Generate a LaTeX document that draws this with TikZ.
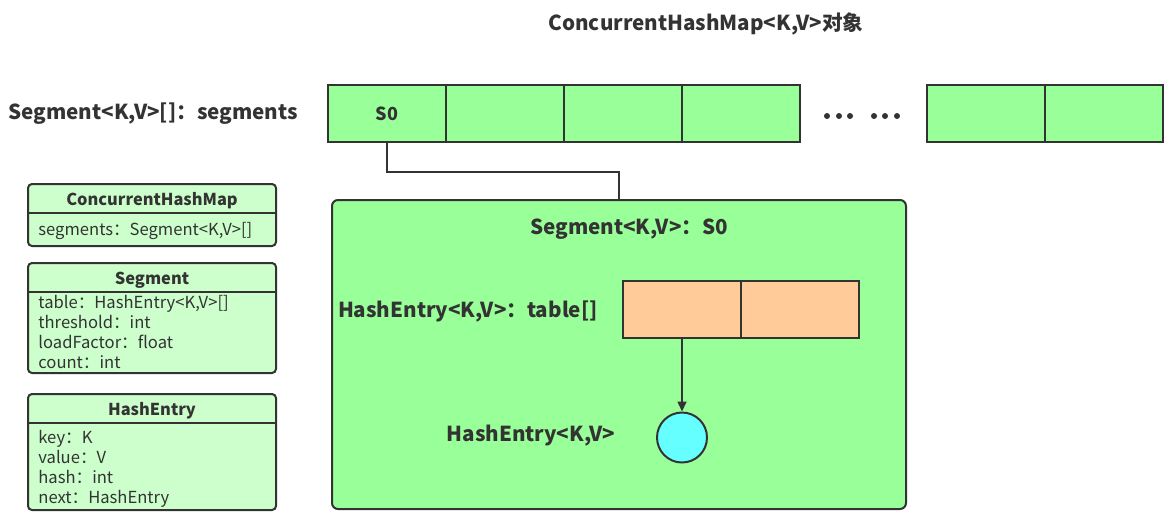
\documentclass[tikz,border=0pt]{standalone}
\usepackage{fontspec}
\setmainfont{Noto Sans CJK SC}
\usetikzlibrary{positioning,arrows.meta}
\definecolor{segfill}{HTML}{99FF99}
\definecolor{clsfill}{HTML}{CCFFCC}
\definecolor{tabfill}{HTML}{FFCC99}
\definecolor{entfill}{HTML}{66FFFF}
\definecolor{ink}{HTML}{333333}
\tikzset{
  lbl/.style={font=\bfseries\fontsize{10.3}{12}\selectfont, text=ink, inner sep=0pt},
  cell/.style={draw=ink, line width=1pt, fill=segfill, outer sep=0pt, inner sep=0pt,
    minimum width=59pt, minimum height=28.5pt, font=\bfseries\fontsize{9}{11}\selectfont, text=ink},
  tabcell/.style={cell, fill=tabfill},
  classbox/.style={draw=ink, line width=1pt, fill=clsfill, rounded corners=2pt},
  classhead/.style={font=\bfseries\fontsize{8.2}{10}\selectfont, text=ink, inner sep=0pt},
  classattr/.style={font=\fontsize{8.3}{10}\selectfont, text=ink, inner sep=0pt, align=left, anchor=north west},
  line/.style={draw=ink, line width=0.8pt},
  arrow/.style={line, -{Triangle[length=5pt,width=4.5pt]}},
}
\begin{document}
\begin{tikzpicture}[x=0.5pt,y=-0.5pt]
\useasboundingbox (0,0) rectangle (1170,526);
\node[lbl] (title) at (706,24) {ConcurrentHashMap<K,V>对象};
\node[lbl, anchor=west] (segsname) at (8,114) {Segment<K,V>[]：segments};

% segments array
\node[cell] (c1) at (387,113.5) {S0};
\node[cell, right=0pt of c1] (c2) {};
\node[cell, right=0pt of c2] (c3) {};
\node[cell, right=0pt of c3] (c4) {};
\foreach \x [count=\i] in {827,839,850,874,885,897}
  \node[circle, fill=ink, inner sep=0pt, minimum size=3pt] (dot\i) at (\x,116) {};
\node[cell] (c5) at (986,113.5) {};
\node[cell, right=0pt of c5] (c6) {};

% segment S0
\node[draw=ink, line width=1pt, fill=segfill, rounded corners=3pt,
  minimum width=287pt, minimum height=154.5pt] (seg) at (619,354.5) {};
\draw[line] (c1.south) -- ++(0,30) -| (seg.north);
\node[lbl] (segtitle) at (629,229) {Segment<K,V>：S0};
\node[tabcell] (t1) at (682,309) {};
\node[tabcell, right=0pt of t1] (t2) {};
\node[lbl, anchor=east] (tabname) at (598,311) {HashEntry<K,V>：table[]};
\node[circle, draw=ink, line width=1pt, fill=entfill, minimum size=25pt] (ent) at (682,437.5) {};
\node[lbl] (entname) at (531,436) {HashEntry<K,V>};
\draw[arrow] (t1.south) -- (ent.north);

% class boxes
\draw[classbox] (28,184) rectangle (276,246);
\draw[line] (28,213) -- (276,213);
\node[classhead] (hmhead) at (152,201) {ConcurrentHashMap};
\node[classattr] (hmattr) at (38,222) {segments：Segment<K,V>[]};

\draw[classbox] (28,263) rectangle (276,373);
\draw[line] (28,292) -- (276,292);
\node[classhead] (sghead) at (152,280) {Segment};
\node[classattr] (sgattr) at (38,295) {table：HashEntry<K,V>[]\\threshold：int\\loadFactor：float\\count：int};

\draw[classbox] (28,394) rectangle (276,510);
\draw[line] (28,423) -- (276,423);
\node[classhead] (hehead) at (152,411) {HashEntry};
\node[classattr] (heattr) at (38,430) {key：K\\value：V\\hash：int\\next：HashEntry};
\end{tikzpicture}
\end{document}
